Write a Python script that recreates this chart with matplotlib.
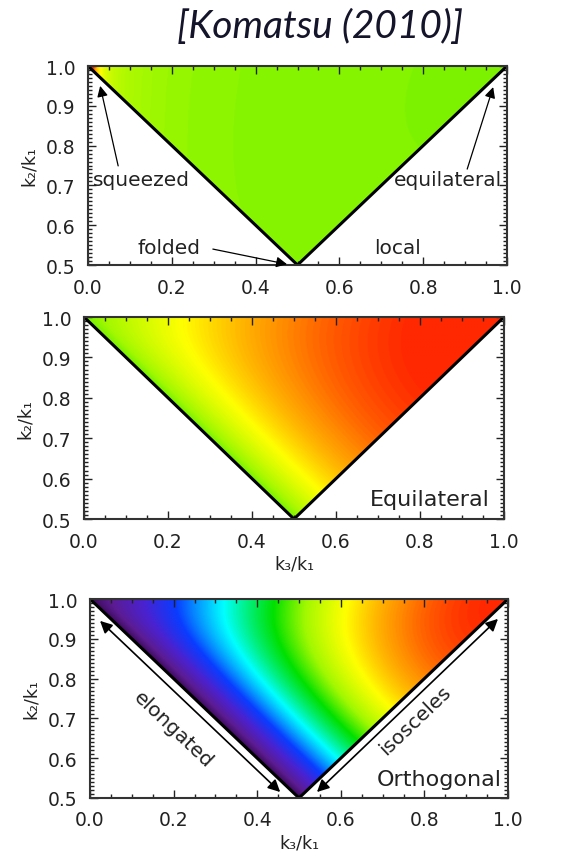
import numpy as np
import matplotlib
matplotlib.use('Agg')
from matplotlib import pyplot as plt
from matplotlib.colors import LinearSegmentedColormap, Normalize

# colour table (IDL-like rainbow), stop positions and colours
cmap_stops = [0.0, 0.1, 0.24, 0.37, 0.54, 0.69, 0.77, 0.856, 0.94, 1.0]
cmap_colors = ['#3a0a58', '#5c1c92', '#4a22d0', '#0a3cff', '#00ffff',
               '#00e000', '#a0f800', '#ffff00', '#ff8c00', '#ff2800']

# panels: shape name, colour range (vmin, vmax), corner label
shapes = ['local', 'equilateral', 'orthogonal']
vranges = [(-155.0, 52.0), (-2.8, 0.96), (-2.0, 1.0)]
corner_labels = ['local', 'Equilateral', 'Orthogonal']

xticks = [0.0, 0.2, 0.4, 0.6, 0.8, 1.0]
yticks = [0.5, 0.6, 0.7, 0.8, 0.9, 1.0]

title = '[Komatsu (2010)]'
xlab = 'k\u2083/k\u2081'
ylab = 'k\u2082/k\u2081'

cmap = LinearSegmentedColormap.from_list('idl', list(zip(cmap_stops, cmap_colors)))
cmap.set_bad((1, 1, 1, 0))


def shape_function(name, x3, x2):
    # k1 = 1, k2 = x2, k3 = x3 ; returns (k1 k2 k3)^2 F / norm
    k1, k2, k3 = 1.0, x2, x3
    s1 = k1**2 / (k2 * k3) + k2**2 / (k1 * k3) + k3**2 / (k1 * k2)
    s2 = (k1 / k2 + k2 / k1 + k1 / k3 + k3 / k1 + k2 / k3 + k3 / k2)
    if name == 'local':
        return s1 / 3.0
    if name == 'equilateral':
        return -s1 - 2.0 + s2
    return -3.0 * s1 - 8.0 + 3.0 * s2


nx, ny = 700, 350
xs = (np.arange(nx) + 0.5) / nx
ys = 0.5 + 0.5 * (np.arange(ny) + 0.5) / ny
X, Y = np.meshgrid(xs, ys)
outside = (Y < X) | (Y < 1 - X)

fig = plt.figure(figsize=(5.8, 8.62), dpi=100)
W, H = 580.0, 862.0
rects = [(88, 67, 507, 266), (84, 318, 504, 520), (90, 600, 508, 799)]
txtc = '#222222'

axes = []
for i, (name, (vmin, vmax)) in enumerate(zip(shapes, vranges)):
    l, t, r, b = rects[i]
    ax = fig.add_axes([l / W, 1 - b / H, (r - l) / W, (b - t) / H])
    axes.append(ax)
    Z = shape_function(name, X, Y)
    Z = np.ma.masked_where(outside, Z)
    ax.imshow(Z, extent=(0, 1, 0.5, 1), origin='lower', aspect='auto',
              cmap=cmap, norm=Normalize(vmin, vmax), interpolation='bilinear')
    ax.plot([0, 0.5, 1], [1, 0.5, 1], color='black', lw=2.2, solid_joinstyle='miter')
    ax.set_xlim(0, 1)
    ax.set_ylim(0.5, 1)
    ax.set_xticks(xticks)
    ax.set_xticklabels(['%.1f' % v for v in xticks])
    ax.set_yticks(yticks)
    ax.set_yticklabels(['%.1f' % v for v in yticks])
    ax.set_xticks(np.arange(0, 1.001, 0.05), minor=True)
    ax.set_yticks(np.arange(0.5, 1.001, 0.01), minor=True)
    ax.tick_params(which='both', direction='in', top=True, right=True,
                   colors=txtc, labelsize=13.5, width=1)
    ax.tick_params(which='major', length=6, pad=9)
    ax.tick_params(which='minor', length=3)
    for s in ax.spines.values():
        s.set_linewidth(1.5)
        s.set_color('#333333')
    ax.set_ylabel(ylab, fontsize=12.5, color=txtc, labelpad=6)
    if i > 0:
        ax.set_xlabel(xlab, fontsize=12.5, color=txtc, labelpad=3)

fig.text(320 / W, 1 - 27 / H, title, fontsize=28, style='italic', family='Lato',
         color='#14142a', ha='center', va='center')

arr = dict(arrowstyle='-|>', color='black', lw=0.9, mutation_scale=16, shrinkA=0, shrinkB=0)
arr2 = dict(arrowstyle='<|-|>', color='black', lw=1.2, mutation_scale=18, shrinkA=0, shrinkB=0)

ax = axes[0]
ax.text(0.012, 0.716, 'squeezed', fontsize=14.5, color=txtc, ha='left', va='center')
ax.text(0.988, 0.716, 'equilateral', fontsize=14.5, color=txtc, ha='right', va='center')
ax.text(0.193, 0.545, 'folded', fontsize=14.5, color=txtc, ha='center', va='center')
ax.text(0.739, 0.545, corner_labels[0], fontsize=14.5, color=txtc, ha='center', va='center')
ax.annotate('', xy=(0.029, 0.95), xytext=(0.072, 0.749), arrowprops=arr)
ax.annotate('', xy=(0.967, 0.947), xytext=(0.905, 0.741), arrowprops=arr)
ax.annotate('', xy=(0.475, 0.502), xytext=(0.298, 0.54), arrowprops=arr)

axes[1].text(0.967, 0.55, corner_labels[1], fontsize=16, color=txtc, ha='right', va='center')

ax = axes[2]
ax.text(0.986, 0.548, corner_labels[2], fontsize=16, color=txtc, ha='right', va='center')
ax.text(0.199, 0.673, 'elongated', fontsize=14.5, color=txtc, ha='center', va='center',
        rotation=-43.6, rotation_mode='anchor')
ax.text(0.778, 0.698, 'isosceles', fontsize=14.5, color=txtc, ha='center', va='center',
        rotation=43.6, rotation_mode='anchor')
ax.annotate('', xy=(0.455, 0.515), xytext=(0.024, 0.945), arrowprops=arr2)
ax.annotate('', xy=(0.543, 0.515), xytext=(0.976, 0.95), arrowprops=arr2)

plt.savefig('out.png', dpi=100)
